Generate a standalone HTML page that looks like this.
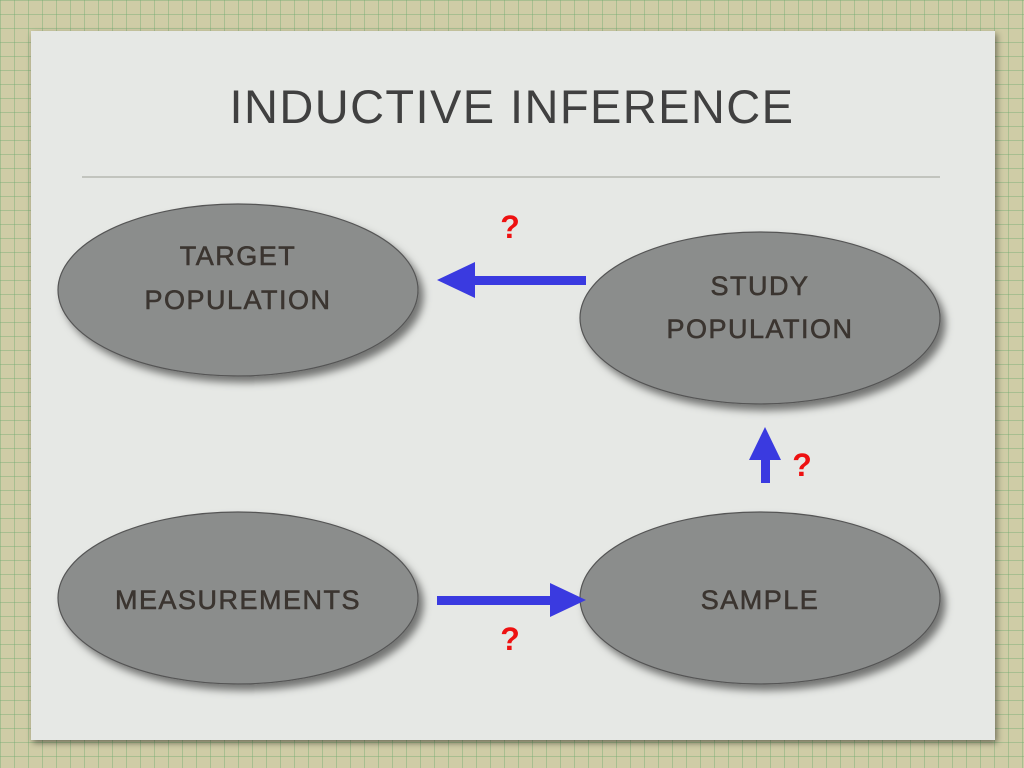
<!DOCTYPE html>
<html><head><style>
html,body{margin:0;padding:0}
body{width:1024px;height:768px;overflow:hidden;position:relative;
background-color:#cfcca6;
background-image:linear-gradient(90deg,rgba(110,170,110,.4) 1px,transparent 1px),linear-gradient(rgba(110,170,110,.4) 1px,transparent 1px);
background-size:14px 14px;}
.slide{position:absolute;left:31px;top:31px;width:964px;height:709px;background:#e6e8e5;box-shadow:2px 3px 6px rgba(0,0,0,.45)}
</style></head><body>
<div class="slide"></div>
<svg width="1024" height="768" style="position:absolute;left:0;top:0">
<defs><filter id="sh"><feDropShadow dx="5" dy="6" stdDeviation="4" flood-opacity=".5"/></filter></defs>
<text x="512" y="123" text-anchor="middle" font-family="Liberation Sans,sans-serif" font-size="47" fill="#404040" letter-spacing="1.5" textLength="565">INDUCTIVE INFERENCE</text>
<line x1="82" y1="177" x2="940" y2="177" stroke="#b5b8b2" stroke-width="1.5"/>
<g fill="#8b8d8c" stroke="#555" stroke-width="1.2" filter="url(#sh)">
<ellipse cx="238" cy="290" rx="180" ry="86"/>
<ellipse cx="760" cy="318" rx="180" ry="86"/>
<ellipse cx="238" cy="598" rx="180" ry="86"/>
<ellipse cx="760" cy="598" rx="180" ry="86"/>
</g>
<g font-family="Liberation Sans,sans-serif" font-size="27" fill="#3b3530" text-anchor="middle" letter-spacing="1.5" stroke="#3b3530" stroke-width="0.6">
<text x="238" y="265">TARGET</text><text x="238" y="309">POPULATION</text>
<text x="760" y="295">STUDY</text><text x="760" y="338">POPULATION</text>
<text x="238" y="609">MEASUREMENTS</text>
<text x="760" y="609">SAMPLE</text>
</g>
<g fill="#3a3ae0">
<rect x="470" y="276" width="116" height="9"/><polygon points="437,280 475,262 475,298"/>
<rect x="761" y="455" width="9" height="28"/><polygon points="765,427 749,460 781,460"/>
<rect x="437" y="596" width="116" height="9"/><polygon points="586,600 550,583 550,617"/>
</g>
<g font-family="Liberation Sans,sans-serif" font-size="32" font-weight="bold" fill="#ee1111" text-anchor="middle">
<text x="510" y="238">?</text><text x="802" y="476">?</text><text x="510" y="650">?</text>
</g>
</svg>
</body></html>
